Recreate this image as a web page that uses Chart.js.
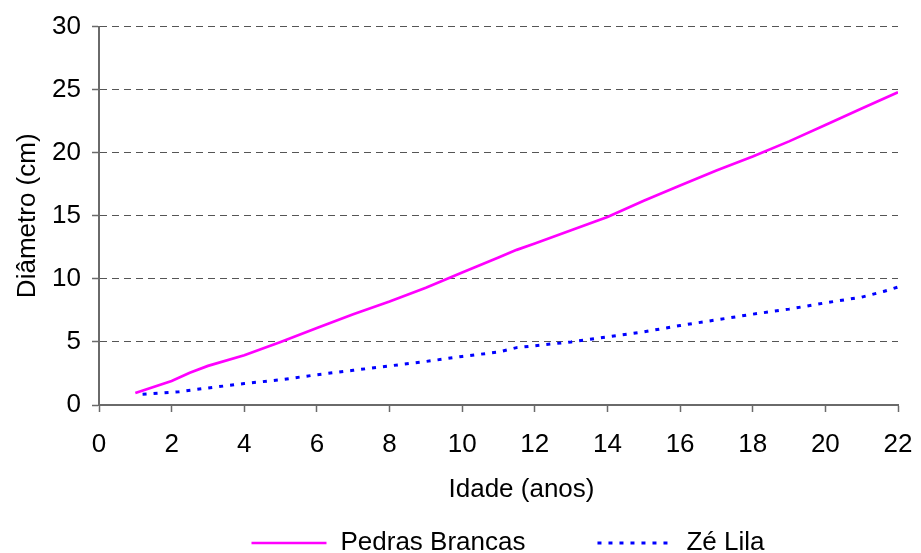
<!DOCTYPE html>
<html>
<head>
<meta charset="utf-8">
<script src="https://cdn.jsdelivr.net/npm/chart.js@4.4.1/dist/chart.umd.min.js"></script>
<style>
  html, body { margin: 0; padding: 0; background: #fff; }
  #wrap { width: 921px; height: 553px; }
</style>
</head>
<body>
<div id="wrap"><canvas id="diamChart" width="921" height="553"></canvas></div>
<script>
// Idade (anos) e diâmetro (cm)
const pedrasAges = [1, 2, 2.5, 3, 4, 5, 6, 7, 8, 9, 10, 11, 11.5, 12, 13, 14, 15, 16, 17, 18, 19, 20, 21, 22];
const pedrasDiam = [0.95, 1.9, 2.55, 3.1, 3.95, 5.0, 6.1, 7.2, 8.2, 9.3, 10.5, 11.7, 12.3, 12.8, 13.85, 14.9, 16.2, 17.4, 18.6, 19.7, 20.9, 22.2, 23.5, 24.8];
const zeAges = [1.2, 2.2, 3, 4, 5, 6, 7, 8, 9, 10, 11, 11.5, 12, 13, 14, 15, 16, 17, 18, 19, 20, 21, 21.6, 22];
const zeDiam = [0.85, 1.05, 1.35, 1.7, 2.0, 2.4, 2.75, 3.1, 3.45, 3.85, 4.2, 4.55, 4.7, 5.0, 5.4, 5.8, 6.3, 6.75, 7.2, 7.6, 8.1, 8.55, 9.0, 9.35];
const seriesNames = ['Pedras Brancas', 'Zé Lila'];
const xTickValues = [0, 2, 4, 6, 8, 10, 12, 14, 16, 18, 20, 22];
const yTickValues = [0, 5, 10, 15, 20, 25, 30];
const xTitle = 'Idade (anos)';
const yTitle = 'Diâmetro (cm)';

const FONT = { family: '"Liberation Sans", Arial, sans-serif', size: 26 };
const AXIS_GREY = '#6a6a6a';

const toPoints = (xs, ys) => xs.map((x, i) => ({ x: x, y: ys[i] }));

// Título do eixo X e legenda desenhados à mão (posição como no original)
const extraText = {
  id: 'extraText',
  afterDraw(chart) {
    const ctx = chart.ctx;
    const area = chart.chartArea;
    const sets = chart.data.datasets;
    ctx.save();
    ctx.font = FONT.size + 'px ' + FONT.family;
    ctx.fillStyle = '#000';
    ctx.textBaseline = 'middle';

    ctx.textAlign = 'center';
    ctx.fillText(xTitle, (area.left + area.right) / 2 + 23, 490);

    ctx.textAlign = 'left';
    const lineLen = 75, gap = 14, spacing = 72;
    const widths = sets.map(d => lineLen + gap + ctx.measureText(d.label).width);
    const total = widths.reduce((a, b) => a + b, 0) + spacing * (sets.length - 1);
    let x = 508 - total / 2;
    const y = 543;
    sets.forEach((d, i) => {
      ctx.strokeStyle = d.borderColor;
      ctx.lineWidth = d.borderWidth;
      ctx.setLineDash(d.borderDash || []);
      ctx.beginPath();
      ctx.moveTo(x, y);
      ctx.lineTo(x + lineLen, y);
      ctx.stroke();
      ctx.setLineDash([]);
      ctx.fillText(d.label, x + lineLen + gap, y);
      x += widths[i] + spacing;
    });
    ctx.restore();
  }
};

const ctx = document.getElementById('diamChart').getContext('2d');
new Chart(ctx, {
  type: 'line',
  data: {
    datasets: [
      {
        label: seriesNames[0],
        data: toPoints(pedrasAges, pedrasDiam),
        borderColor: '#ff00ff',
        borderWidth: 2.7,
        pointRadius: 0,
        tension: 0
      },
      {
        label: seriesNames[1],
        data: toPoints(zeAges, zeDiam),
        borderColor: '#0000ff',
        borderWidth: 3,
        borderDash: [4, 7],
        pointRadius: 0,
        tension: 0
      }
    ]
  },
  options: {
    responsive: false,
    animation: false,
    devicePixelRatio: 1,
    layout: { padding: { left: 0, top: 25, right: 23, bottom: 48 } },
    plugins: {
      legend: { display: false },
      tooltip: { enabled: false }
    },
    scales: {
      x: {
        type: 'linear',
        min: 0,
        max: 22,
        afterBuildTicks: s => { s.ticks = xTickValues.map(v => ({ value: v })); },
        afterFit: s => { s.height = 100; s.paddingLeft = 0; s.paddingRight = 0; },
        ticks: { font: FONT, color: '#000', padding: 17, maxRotation: 0, autoSkip: false },
        grid: { drawOnChartArea: false, drawTicks: true, tickLength: 7, tickColor: AXIS_GREY, tickWidth: 1.5 },
        border: { color: AXIS_GREY, width: 2 },
        title: { display: false }
      },
      y: {
        min: 0,
        max: 30,
        afterBuildTicks: s => { s.ticks = yTickValues.map(v => ({ value: v })); },
        afterFit: s => { s.width = 99; },
        ticks: { font: FONT, color: '#000', padding: 11 },
        grid: {
          color: c => (c.tick && c.tick.value === 0) ? 'rgba(0,0,0,0)' : '#555555',
          lineWidth: 1,
          tickLength: 7,
          tickColor: AXIS_GREY,
          tickWidth: 1.5
        },
        border: { color: AXIS_GREY, width: 2, dash: [7, 5] },
        title: { display: true, text: yTitle, font: FONT, color: '#000', padding: { top: 12, bottom: 0 } }
      }
    }
  },
  plugins: [extraText]
});
</script>
</body>
</html>
